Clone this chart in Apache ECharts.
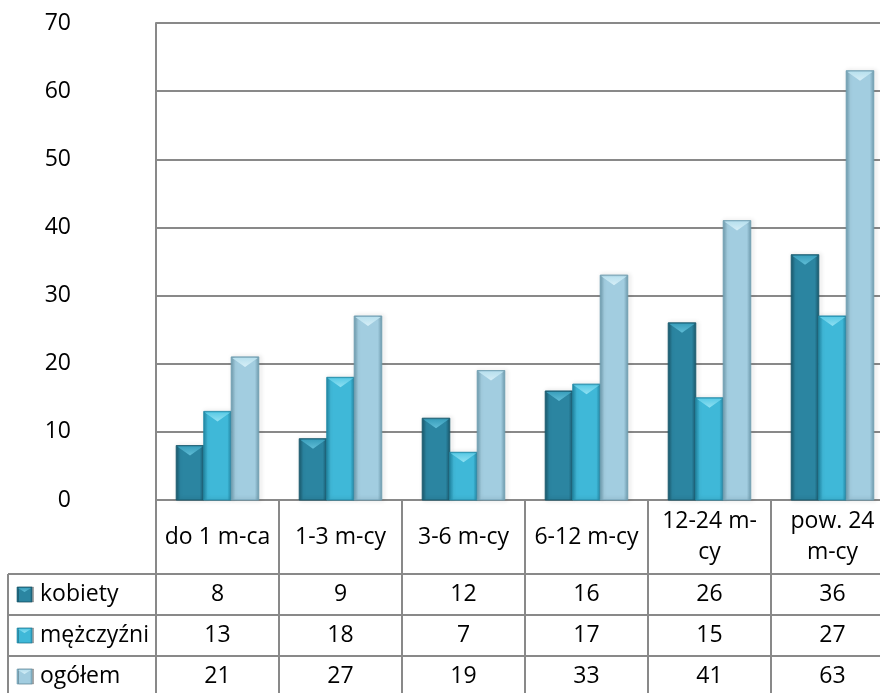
<!DOCTYPE html>
<html><head><meta charset="utf-8">
<script src="https://cdn.jsdelivr.net/npm/echarts@6/dist/echarts.min.js"></script>
<style>html,body{margin:0;padding:0;background:#fff;overflow:hidden;width:880px;height:693px}#c{width:894px;height:693px}</style>
</head><body><div id="c"></div>
<script>
var categories = ['do 1 m-ca', '1-3 m-cy', '3-6 m-cy', '6-12 m-cy', '12-24 m-\ncy', 'pow. 24\nm-cy'];
var seriesNames = ['kobiety', 'mężczyźni', 'ogółem'];
var kobiety = [8, 9, 12, 16, 26, 36];
var mezczyzni = [13, 18, 7, 17, 15, 27];
var ogolem = [21, 27, 19, 33, 41, 63];
var yTicks = [0, 10, 20, 30, 40, 50, 60, 70];

var seriesData = [kobiety, mezczyzni, ogolem];
var palette = [
  {edge: '#1a5a6e', mid: '#2b85a1', top: '#5fbcd6', topEdge: '#3a9fbc'},
  {edge: '#238ba8', mid: '#3fb8d8', top: '#8fe0f2', topEdge: '#5ccbe6'},
  {edge: '#719fb2', mid: '#a2cde0', top: '#d6eef7', topEdge: '#b8e0ee'}
];
var FONT = 'Open Sans';
var FS = 23;
var BAR_W = 27.5;

function barShapes(x, y, w, h, c, bevMax) {
  var grad = new echarts.graphic.LinearGradient(0, 0, 1, 0, [
    {offset: 0, color: c.edge}, {offset: 0.15, color: c.mid},
    {offset: 0.5, color: c.mid}, {offset: 0.85, color: c.mid}, {offset: 1, color: c.edge}
  ]);
  var bev = Math.min(bevMax, h);
  return [
    {type: 'rect', shape: {x: x, y: y, width: w, height: h},
     style: {fill: grad, stroke: c.edge, lineWidth: 0.6, shadowBlur: 4, shadowColor: 'rgba(0,0,0,0.35)', shadowOffsetX: 1.5, shadowOffsetY: 0}},
    {type: 'polygon', shape: {points: [[x + 1, y + 1], [x + w - 1, y + 1], [x + w / 2, y + bev]]},
     style: {fill: new echarts.graphic.LinearGradient(0, 0, 0, 1, [{offset: 0, color: c.topEdge}, {offset: 1, color: c.top}])}}
  ];
}

function makeRender(si) {
  return function (params, api) {
    var cat = api.value(0), val = api.value(1);
    var top = api.coord([cat, val]);
    var base = api.coord([cat, 0]);
    var x = top[0] + (si - 1.5) * BAR_W;
    return {type: 'group', children: barShapes(x, top[1], BAR_W, base[1] - top[1], palette[si], 10)};
  };
}

var chart = echarts.init(document.getElementById('c'), null, {renderer: 'canvas'});
var series = seriesData.map(function (arr, si) {
  return {
    type: 'custom', name: seriesNames[si],
    renderItem: makeRender(si),
    encode: {x: 0, y: 1},
    data: arr.map(function (v, i) { return [i, v]; }),
    clip: false
  };
});

chart.setOption({
  animation: false,
  grid: {left: 156, top: 23, right: 0, bottom: 193},
  xAxis: {
    type: 'category', data: categories,
    axisLine: {show: true, lineStyle: {color: '#898989', width: 2}},
    axisTick: {show: false},
    axisLabel: {show: false},
    splitLine: {show: false}
  },
  yAxis: {
    type: 'value', min: 0, max: 70, interval: 10,
    axisLine: {show: true, lineStyle: {color: '#898989', width: 2}},
    axisTick: {show: false},
    axisLabel: {margin: 85, fontFamily: FONT, fontSize: FS, color: '#000',
      formatter: function (v) { return yTicks.indexOf(v) >= 0 ? String(v) : ''; }},
    splitLine: {show: true, lineStyle: {color: '#898989', width: 2}}
  },
  series: series
});

var c0 = chart.convertToPixel({xAxisIndex: 0}, 0);
var c1 = chart.convertToPixel({xAxisIndex: 0}, 1);
var cw = c1 - c0;
var yZero = chart.convertToPixel({yAxisIndex: 0}, 0);
var rowLines = [yZero + 74, yZero + 115, yZero + 156, yZero + 197];
var legendLeft = 8;
var lineStyle = {stroke: '#898989', lineWidth: 2};
var g = [];
var rightEdge = c0 + cw * (categories.length - 0.5);
for (var i = 0; i <= categories.length; i++) {
  var xx = c0 - cw / 2 + i * cw;
  g.push({type: 'line', shape: {x1: xx, y1: yZero, x2: xx, y2: rowLines[3]}, style: lineStyle});
}
g.push({type: 'line', shape: {x1: legendLeft, y1: rowLines[0], x2: legendLeft, y2: rowLines[3]}, style: lineStyle});
for (var r = 0; r < rowLines.length; r++) {
  g.push({type: 'line', shape: {x1: legendLeft, y1: rowLines[r], x2: rightEdge, y2: rowLines[r]}, style: lineStyle});
}
categories.forEach(function (cat, i) {
  g.push({type: 'text', x: c0 + i * cw, y: (yZero + rowLines[0]) / 2,
    style: {text: cat, fontFamily: FONT, fontSize: FS, fill: '#000', align: 'center', verticalAlign: 'middle', lineHeight: 31}});
});
seriesData.forEach(function (arr, si) {
  var cy = (rowLines[si] + rowLines[si + 1]) / 2;
  var c = palette[si];
  g.push({type: 'group', children: barShapes(17, cy - 7.5, 15, 15, c, 5).map(function (s) { s.style.shadowBlur = 0; return s; })});
  g.push({type: 'text', x: 40, y: cy, style: {text: seriesNames[si], fontFamily: FONT, fontSize: FS, fill: '#000', align: 'left', verticalAlign: 'middle'}});
  arr.forEach(function (v, i) {
    g.push({type: 'text', x: c0 + i * cw, y: cy, style: {text: String(v), fontFamily: FONT, fontSize: FS, fill: '#000', align: 'center', verticalAlign: 'middle'}});
  });
});
chart.setOption({graphic: g});
</script></body></html>
